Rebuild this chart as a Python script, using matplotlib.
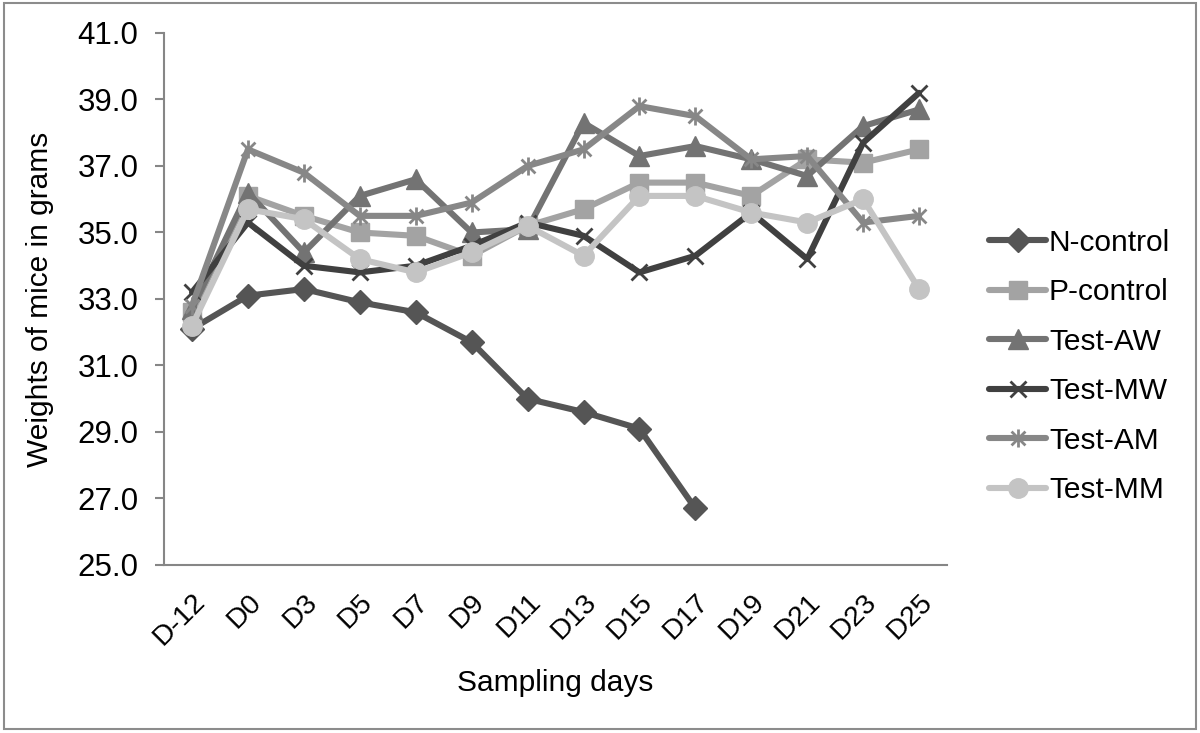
import numpy as np
import matplotlib
matplotlib.use("Agg")
import matplotlib.pyplot as plt
from matplotlib.path import Path
from matplotlib.patches import Rectangle

plt.rcParams['font.family'] = ['Liberation Sans', 'DejaVu Sans']

days = ['D-12', 'D0', 'D3', 'D5', 'D7', 'D9', 'D11', 'D13', 'D15', 'D17', 'D19', 'D21', 'D23', 'D25']

n_control = [32.1, 33.1, 33.3, 32.9, 32.6, 31.7, 30.0, 29.6, 29.1, 26.7]
p_control = [32.6, 36.1, 35.5, 35.0, 34.9, 34.3, 35.2, 35.7, 36.5, 36.5, 36.1, 37.2, 37.1, 37.5]
test_aw = [32.7, 36.2, 34.4, 36.1, 36.6, 35.0, 35.1, 38.3, 37.3, 37.6, 37.2, 36.7, 38.2, 38.7]
test_mw = [33.2, 35.3, 34.0, 33.8, 34.0, 34.6, 35.3, 34.9, 33.8, 34.3, 35.6, 34.2, 37.7, 39.2]
test_am = [32.8, 37.5, 36.8, 35.5, 35.5, 35.9, 37.0, 37.5, 38.8, 38.5, 37.2, 37.3, 35.3, 35.5]
test_mm = [32.2, 35.7, 35.4, 34.2, 33.8, 34.4, 35.2, 34.3, 36.1, 36.1, 35.6, 35.3, 36.0, 33.3]

# Excel-style asterisk: an x plus a vertical bar
star = Path([(-1, -1), (1, 1), (-1, 1), (1, -1), (0, -1.3), (0, 1.3)],
            [Path.MOVETO, Path.LINETO, Path.MOVETO, Path.LINETO, Path.MOVETO, Path.LINETO])

fig = plt.figure(figsize=(12, 7.33), dpi=100)
ax = fig.add_axes([0.1367, 0.2292, 0.6525, 0.7258])

x = np.arange(len(days))
kw = dict(lw=4.4, solid_capstyle='round')
ax.plot(x[:len(n_control)], n_control, color='#555555', marker='D', ms=12, label='N-control', **kw)
ax.plot(x, p_control, color='#a3a3a3', marker='s', ms=13, label='P-control', **kw)
ax.plot(x, test_aw, color='#737373', marker='^', ms=14, label='Test-AW', **kw)
ax.plot(x, test_mw, color='#404040', marker='x', ms=12, mew=2, label='Test-MW', **kw)
ax.plot(x, test_am, color='#878787', marker=star, ms=13, mew=2, label='Test-AM', **kw)
ax.plot(x, test_mm, color='#c4c4c4', marker='o', ms=14, label='Test-MM', **kw)

ax.set_xlim(-0.5, len(days) - 0.5)
ax.set_ylim(25, 41)
ax.set_yticks(np.arange(25, 41.1, 2))
ax.set_yticklabels(['%.1f' % v for v in np.arange(25, 41.1, 2)], fontsize=22.5)
ax.set_xticks(x)
ax.set_xticklabels(days, fontsize=20.5, rotation=45, ha='right', rotation_mode='anchor')
ax.tick_params(axis='x', length=0, pad=17)
ax.tick_params(axis='y', length=6.5, width=1.5, color='#868686', pad=12)

for s in ['top', 'right']:
    ax.spines[s].set_visible(False)
for s in ['left', 'bottom']:
    ax.spines[s].set_color('#868686')
    ax.spines[s].set_linewidth(1.5)

ax.set_ylabel('Weights of mice in grams', fontsize=21.5, labelpad=17)
ax.set_xlabel('Sampling days', fontsize=21.5, labelpad=13)

fig.legend(loc='center left', bbox_to_anchor=(0.802, 0.50), frameon=False,
           fontsize=21.5, handlelength=1.9, handletextpad=0.1, labelspacing=0.72)

fig.patches.append(Rectangle((0.003, 0.006), 0.994, 0.99, transform=fig.transFigure,
                             fill=False, ec='#8c8c8c', lw=1.5))

fig.savefig('out.png', dpi=100)
